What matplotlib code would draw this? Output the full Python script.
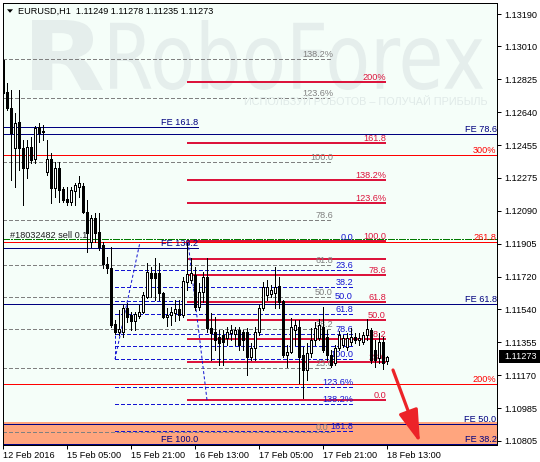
import matplotlib
matplotlib.use('Agg')
import matplotlib.pyplot as plt
from matplotlib.patches import Rectangle, PathPatch, Polygon
from matplotlib.textpath import TextPath
from matplotlib.font_manager import FontProperties
from matplotlib.transforms import Affine2D, offset_copy

plt.rcParams['font.family'] = ['Liberation Sans', 'DejaVu Sans']

W, H, DPI = 540, 462, 100

# ---------------- data ----------------
opens = [1.12933, 1.12754, 1.12664, 1.12441, 1.12586, 1.12441, 1.12329, 1.12446, 1.12379, 1.12558,
         1.12536, 1.12307, 1.12379, 1.12217, 1.12329, 1.12212, 1.12156, 1.12139, 1.12200, 1.12223,
         1.12228, 1.12083, 1.11915, 1.12049, 1.11971, 1.11898, 1.11792, 1.11770, 1.11457, 1.11412,
         1.11412, 1.11546, 1.11507, 1.11474, 1.11502, 1.11524, 1.11608, 1.11742, 1.11742, 1.11742,
         1.11630, 1.11496, 1.11507, 1.11518, 1.11541, 1.11507, 1.11692, 1.11703, 1.11731, 1.11552,
         1.11636, 1.11720, 1.11435, 1.11412, 1.11384, 1.11395, 1.11379, 1.11407, 1.11401, 1.11423,
         1.11412, 1.11412, 1.11272, 1.11323, 1.11412, 1.11546, 1.11619, 1.11625, 1.11630, 1.11669,
         1.11585, 1.11284, 1.11300, 1.11423, 1.11440, 1.11284, 1.11200, 1.11295, 1.11367, 1.11379,
         1.11440, 1.11384, 1.11284, 1.11239, 1.11323, 1.11339, 1.11328, 1.11356, 1.11384, 1.11367,
         1.11356, 1.11395, 1.11423, 1.11312, 1.11267, 1.11356, 1.11249]
highs = [1.12944, 1.12804, 1.12765, 1.12636, 1.12765, 1.12485, 1.12485, 1.12502, 1.12564, 1.12580,
         1.12569, 1.12485, 1.12413, 1.12362, 1.12362, 1.12223, 1.12223, 1.12223, 1.12245, 1.12284,
         1.12245, 1.12150, 1.12066, 1.12077, 1.12077, 1.11915, 1.11831, 1.11887, 1.11479, 1.11535,
         1.11563, 1.11574, 1.11524, 1.11524, 1.11563, 1.11636, 1.11798, 1.11776, 1.11826, 1.11798,
         1.11636, 1.11546, 1.11552, 1.11591, 1.11591, 1.11720, 1.11910, 1.11826, 1.11776, 1.11686,
         1.11748, 1.11826, 1.11518, 1.11496, 1.11423, 1.11423, 1.11440, 1.11451, 1.11440, 1.11440,
         1.11423, 1.11435, 1.11351, 1.11440, 1.11563, 1.11692, 1.11703, 1.11675, 1.11776, 1.11720,
         1.11591, 1.11339, 1.11490, 1.11479, 1.11479, 1.11328, 1.11351, 1.11435, 1.11468, 1.11485,
         1.11552, 1.11423, 1.11312, 1.11339, 1.11418, 1.11395, 1.11407, 1.11435, 1.11407, 1.11407,
         1.11412, 1.11485, 1.11435, 1.11367, 1.11407, 1.11384, 1.11278]
lows = [1.12709, 1.12653, 1.12262, 1.12223, 1.12318, 1.12122, 1.12273, 1.12357, 1.12357, 1.12474,
        1.12485, 1.12290, 1.12133, 1.12167, 1.12139, 1.12139, 1.12122, 1.12122, 1.12122, 1.12167,
        1.12077, 1.11859, 1.11887, 1.11915, 1.11871, 1.11770, 1.11742, 1.11440, 1.11401, 1.11395,
        1.11384, 1.11468, 1.11423, 1.11423, 1.11490, 1.11518, 1.11602, 1.11608, 1.11591, 1.11591,
        1.11490, 1.11446, 1.11451, 1.11474, 1.11479, 1.11496, 1.11647, 1.11686, 1.11535, 1.11535,
        1.11580, 1.11412, 1.11256, 1.11312, 1.11228, 1.11228, 1.11339, 1.11367, 1.11339, 1.11312,
        1.11312, 1.11172, 1.11256, 1.11256, 1.11395, 1.11535, 1.11591, 1.11608, 1.11546, 1.11546,
        1.11272, 1.11216, 1.11295, 1.11339, 1.11127, 1.11043, 1.11144, 1.11272, 1.11339, 1.11367,
        1.11300, 1.11256, 1.11216, 1.11228, 1.11312, 1.11328, 1.11312, 1.11339, 1.11351, 1.11339,
        1.11345, 1.11367, 1.11239, 1.11216, 1.11239, 1.11205, 1.11235]
closes = [1.12748, 1.12664, 1.12525, 1.12580, 1.12441, 1.12329, 1.12446, 1.12374, 1.12553, 1.12525,
          1.12530, 1.12379, 1.12217, 1.12329, 1.12206, 1.12150, 1.12139, 1.12206, 1.12234, 1.12245,
          1.12083, 1.11966, 1.12049, 1.11966, 1.11887, 1.11792, 1.11770, 1.11451, 1.11412, 1.11429,
          1.11546, 1.11496, 1.11474, 1.11513, 1.11524, 1.11619, 1.11748, 1.11714, 1.11714, 1.11630,
          1.11496, 1.11507, 1.11524, 1.11541, 1.11507, 1.11697, 1.11736, 1.11742, 1.11552, 1.11636,
          1.11720, 1.11435, 1.11407, 1.11367, 1.11351, 1.11356, 1.11412, 1.11423, 1.11423, 1.11339,
          1.11367, 1.11272, 1.11323, 1.11412, 1.11546, 1.11664, 1.11664, 1.11647, 1.11664, 1.11580,
          1.11284, 1.11300, 1.11440, 1.11451, 1.11272, 1.11200, 1.11295, 1.11367, 1.11435, 1.11451,
          1.11312, 1.11284, 1.11228, 1.11323, 1.11395, 1.11379, 1.11379, 1.11384, 1.11367, 1.11379,
          1.11395, 1.11429, 1.11256, 1.11256, 1.11356, 1.11239, 1.11273]

price_ticks = [1.13190, 1.13010, 1.12825, 1.12640, 1.12455, 1.12275, 1.12090, 1.11905,
               1.11720, 1.11540, 1.11355, 1.11170, 1.10985, 1.10805]
time_tick_bars = [0, 16, 32, 48, 64, 80, 96]
time_tick_labels = ['12 Feb 2016', '15 Feb 05:00', '15 Feb 21:00', '16 Feb 13:00',
                    '17 Feb 05:00', '17 Feb 21:00', '18 Feb 13:00']

# Fibonacci retracement (grey)
grey_labels = ['0.0', '23.6', '38.2', '50.0', '61.8', '78.6', '100.0', '123.6%', '138.2%']
grey_prices = [1.10853, 1.11209, 1.11429, 1.11608, 1.11786, 1.12039, 1.12362, 1.12718, 1.12938]
# Fibonacci retracement (blue)
blue_labels = ['0.0', '23.6', '38.2', '50.0', '61.8', '78.6', '', '100.0', '123.6%', '138.2%', '161.8']
blue_prices = [1.11915, 1.11761, 1.11665, 1.11588, 1.11511, 1.11401, 1.11336, 1.11261, 1.11107,
               1.11011, 1.10857]
# Fibonacci expansion (crimson)
crim_labels = ['0.0', '23.6', '38.2', '50.0', '61.8', '78.6', '', '100.0', '123.6%', '138.2%', '161.8', '200%']
crim_prices = [1.11032, 1.11242, 1.11372, 1.11477, 1.11581, 1.11731, 1.11820, 1.11921, 1.12131,
               1.12261, 1.12470, 1.12810]
# expansion (thin red, full width)
red_labels = ['300%', '261.8', '200%']
red_prices = [1.12400, 1.11915, 1.11121]
# FE levels (navy)
fe_full_labels = ['FE 78.6', 'FE 61.8', 'FE 50.0', 'FE 38.2']
fe_full_prices = [1.12519, 1.11569, 1.10898, 1.10786]
fe_short_labels = ['FE 161.8', 'FE 138.2', 'FE 100.0']
fe_short_prices = [1.12558, 1.11882, 1.10786]

order_price = 1.11935
order_label = '#18032482 sell 0.1'
zone_top = 1.10912

retr_anchor_bars = [28, 34.25]
retr_anchor_prices = [1.11261, 1.11915]
exp_anchor_bars = [46.25, 51]
exp_anchor_prices = [1.11915, 1.11032]
arrow_bars = [97.5, 104.25]
arrow_prices = [1.11200, 1.10792]

title = 'EURUSD,H1  1.11249 1.11278 1.11235 1.11273'

# ---------------- style ----------------
BG = '#F5FEF9'
WM = '#E5EEEC'
GREY = '#808080'
BLUE = '#1414D2'
CRIM = '#DC143C'
RED = '#FF0000'
NAVY = '#000080'
LW = 0.72
FS = 6.6

fig = plt.figure(figsize=(W / DPI, H / DPI), dpi=DPI)
fig.patch.set_facecolor('white')
ax = fig.add_axes([3 / W, 17 / H, 494 / W, 442 / H])
ax.set_facecolor(BG)
ax.set_xlim(0, 123.5)
ax.set_ylim(1.107808, 1.132515)

for s in ax.spines.values():
    s.set_color('black')
    s.set_linewidth(LW)

# watermark
def wm_text(txt, box, weight='normal'):
    fp = FontProperties(family='DejaVu Sans', weight=weight)
    tp = TextPath((0, 0), txt, size=100, prop=fp)
    e = tp.get_extents()
    x0, yt0, x1, yt1 = box
    sx = (x1 - x0) / e.width
    sy = (yt1 - yt0) / e.height
    tr = Affine2D().translate(-e.x0, -e.y0).scale(sx, sy).translate(x0, H - yt1)
    ax.add_patch(PathPatch(tp, transform=tr, fc=WM, ec='none', zorder=0.5))

wm_text('RoboForex', (110, 20, 483, 90))
wm_text('R', (32, 20, 103, 90), weight='bold')
fig.text(488 / W, 1 - 102 / H, 'ИСПОЛЬЗУЙ РОБОТОВ – ПОЛУЧАЙ ПРИБЫЛЬ', ha='right', va='center',
         fontsize=7.8, color='#E0EAE8', zorder=0.6)

# zone
ax.axhspan(ax.get_ylim()[0] - 0.001, zone_top, color='#FFA57E', zorder=1, lw=0)

lab_tr = offset_copy(ax.transData, fig=fig, x=0, y=2, units='dots')

def levels(prices, labels, x0, x1, color, lw, ls, lab_x, z=2, lab_x_first=None):
    for k, (p, l) in enumerate(zip(prices, labels)):
        ax.hlines(p, x0, x1, colors=color, linewidth=lw, linestyles=ls, zorder=z, antialiased=False)
        if l:
            lx = lab_x_first if (k == 0 and lab_x_first is not None) else lab_x
            ax.text(lx, p, l, ha='right', va='baseline', color=color, fontsize=FS,
                    transform=lab_tr, zorder=3)

dash = (0, (3.0, 2.2))
levels(grey_prices, grey_labels, 0, 82.5, GREY, LW, [dash], 82.5, lab_x_first=81.4)
levels(blue_prices, blue_labels, 28, 87.5, BLUE, LW, [dash], 87.5)
levels(red_prices, red_labels, 0, 123.5, RED, LW, 'solid', 123.4)
levels(crim_prices, crim_labels, 46, 95.75, CRIM, 1.44, 'solid', 95.75)
levels(fe_full_prices, fe_full_labels, 0, 123.5, NAVY, LW, 'solid', 123.4)
levels(fe_short_prices, fe_short_labels, 0, 48.75, NAVY, LW, 'solid', 48.75)

# order line
ax.hlines(order_price, 0, 123.5, colors='#007A00', linewidth=LW,
          linestyles=[(0, (6, 2, 1.5, 2))], zorder=2, antialiased=False)
ax.text(1.75, order_price, order_label, ha='left', va='baseline', fontsize=FS, color='#202020',
        transform=offset_copy(ax.transData, fig=fig, x=0, y=1, units='dots'), zorder=3)

# trend lines
ax.plot(retr_anchor_bars, retr_anchor_prices, color=BLUE, lw=LW, ls=dash, zorder=2)
ax.plot([retr_anchor_bars[0], retr_anchor_bars[0]], [retr_anchor_prices[0], blue_prices[5]],
        color=BLUE, lw=LW, ls=dash, zorder=2)
ax.plot(exp_anchor_bars, exp_anchor_prices, color=BLUE, lw=LW, ls=dash, zorder=2)

# candles
for i, (o, h, l, c) in enumerate(zip(opens, highs, lows, closes)):
    ax.vlines(i, l, h, colors='black', linewidth=LW, zorder=4, antialiased=False)
    b = min(o, c)
    ht = abs(c - o)
    fc = 'white' if c >= o else 'black'
    ax.add_patch(Rectangle((i - 0.25, b), 0.5, ht, fc=fc, ec='black', lw=LW, zorder=5,
                           antialiased=False))

# arrow
ax.annotate('', xy=(arrow_bars[1], arrow_prices[1]), xytext=(arrow_bars[0], arrow_prices[0]),
            arrowprops=dict(arrowstyle='-|>,head_length=2.0,head_width=0.6', lw=2.3,
                            color='#EC2328', mutation_scale=10, shrinkA=0, shrinkB=0),
            zorder=8, annotation_clip=False)

# axes ticks
ax.yaxis.tick_right()
ax.set_yticks(price_ticks)
ax.set_yticklabels(['%.5f' % p for p in price_ticks])
ax.set_xticks(time_tick_bars)
ax.set_xticklabels(time_tick_labels, ha='left')
ax.tick_params(axis='y', direction='out', length=3, width=LW, pad=2, labelsize=FS, colors='black')
ax.tick_params(axis='x', direction='out', length=3, width=LW, pad=1.5, labelsize=FS, colors='black')

# current price box
yd = ax.transData.transform((0, closes[-1]))[1]
fig.add_artist(Rectangle((499 / W, (yd - 6.5) / H), 41 / W, 13 / H, transform=fig.transFigure,
                         fc='black', ec='none', zorder=10))
fig.text(504 / W, yd / H, '%.5f' % closes[-1], color='white', fontsize=FS, va='center',
         ha='left', zorder=11)

# title
fig.add_artist(Polygon([(7 / W, 1 - 9.3 / H), (13 / W, 1 - 9.3 / H), (10 / W, 1 - 12.8 / H)],
                       closed=True, transform=fig.transFigure, fc='black', ec='none', zorder=10))
fig.text(18 / W, 1 - 14 / H, title, fontsize=FS, va='baseline', ha='left', color='black', zorder=10)

fig.savefig('out.png', dpi=DPI, facecolor='white')
